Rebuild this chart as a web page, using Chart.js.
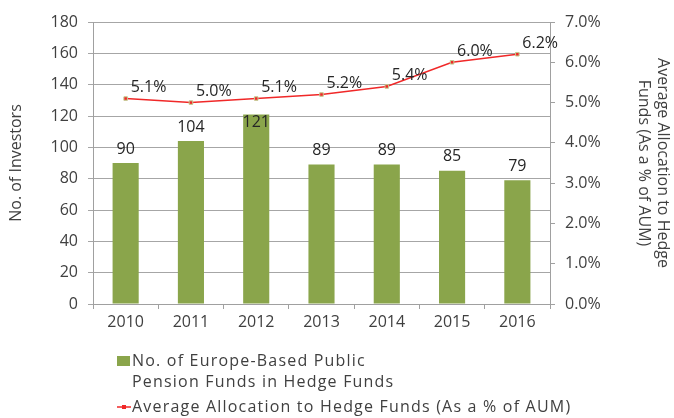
<!DOCTYPE html>
<html>
<head>
<meta charset="utf-8">
<script src="https://cdn.jsdelivr.net/npm/chart.js@4.4.1/dist/chart.umd.min.js"></script>
<style>
  html, body { margin: 0; padding: 0; background: #ffffff; }
  #wrap { width: 674px; height: 418px; position: relative; }
</style>
</head>
<body>
<div id="wrap"><canvas id="chart" width="674" height="418"></canvas></div>
<script>
// data
const years = ["2010", "2011", "2012", "2013", "2014", "2015", "2016"];
const fundCounts = [90, 104, 121, 89, 89, 85, 79];
const avgAllocation = [5.1, 5.0, 5.1, 5.2, 5.4, 6.0, 6.2];
const barLegend = ["No. of Europe-Based Public", "Pension Funds in Hedge Funds"];
const lineLegend = "Average Allocation to Hedge Funds (As a % of AUM)";

const FONT = "'Open Sans', sans-serif";
const GREEN = "#8aa54b";
const RED = "#f02828";
const TEXT = "#404040";

// value labels for bars (centered above) and line points (up-right)
const labelPlugin = {
    id: "labelPlugin",
    afterDatasetsDraw(chart) {
        const { ctx } = chart;
        const barMeta = chart.getDatasetMeta(0);
        const lineMeta = chart.getDatasetMeta(1);
        ctx.save();
        ctx.font = "16px " + FONT;
        ctx.fillStyle = "#262626";
        ctx.textBaseline = "middle";
        barMeta.data.forEach((bar, i) => {
            const pt = lineMeta.data[i];
            // keep clear of the line label when bars get tall
            const y = Math.max(bar.y - 14, pt.y + 24);
            ctx.textAlign = "center";
            ctx.fillText(String(fundCounts[i]), bar.x, y);
        });
        lineMeta.data.forEach((pt, i) => {
            ctx.textAlign = "left";
            ctx.fillText(avgAllocation[i].toFixed(1) + "%", pt.x + 5, pt.y - 11);
        });
        ctx.restore();
    }
};

// legend below the axis, stacked like the original
const legendPlugin = {
    id: "legendPlugin",
    afterDraw(chart) {
        const { ctx } = chart;
        ctx.save();
        ctx.font = "16px " + FONT;
        ctx.letterSpacing = "1.2px";
        ctx.textBaseline = "middle";
        ctx.textAlign = "left";
        const x0 = 117;
        // bar item
        ctx.fillStyle = GREEN;
        ctx.fillRect(x0, 356, 13, 10);
        ctx.fillStyle = TEXT;
        ctx.fillText(barLegend[0], x0 + 15, 361);
        ctx.fillText(barLegend[1], x0 + 15, 382);
        // line item
        ctx.strokeStyle = RED;
        ctx.lineWidth = 1.5;
        ctx.beginPath();
        ctx.moveTo(x0, 407);
        ctx.lineTo(x0 + 14, 407);
        ctx.stroke();
        ctx.fillStyle = RED;
        ctx.fillRect(x0 + 5, 405, 4, 4);
        ctx.fillStyle = TEXT;
        ctx.fillText(lineLegend, x0 + 15, 407);
        ctx.restore();
    }
};

const canvas = document.getElementById("chart");
new Chart(canvas, {
    type: "bar",
    data: {
        labels: years,
        datasets: [
            {
                type: "bar",
                label: barLegend.join(" "),
                data: fundCounts,
                backgroundColor: GREEN,
                barPercentage: 0.4,
                categoryPercentage: 1,
                yAxisID: "y",
                order: 2
            },
            {
                type: "line",
                label: lineLegend,
                data: avgAllocation,
                borderColor: RED,
                borderWidth: 1.5,
                pointStyle: "rect",
                pointRadius: 2.5,
                pointBackgroundColor: RED,
                pointBorderColor: "#c0cc90",
                pointBorderWidth: 1,
                tension: 0,
                yAxisID: "y1",
                order: 1
            }
        ]
    },
    options: {
        responsive: false,
        animation: false,
        layout: { padding: { top: 22, left: 0, right: 0, bottom: 0 } },
        plugins: {
            legend: { display: false },
            tooltip: { enabled: false }
        },
        scales: {
            x: {
                grid: { display: true, drawOnChartArea: false, tickLength: 5, color: "#a0a0a0" },
                border: { color: "#a0a0a0" },
                ticks: { color: TEXT, font: { family: FONT, size: 16 }, padding: 4 },
                afterFit(scale) { scale.height = 114; }
            },
            y: {
                position: "left",
                min: 0,
                max: 180,
                ticks: { stepSize: 20, color: TEXT, font: { family: FONT, size: 16 }, padding: 10 },
                grid: { color: "#a6a6a6", tickLength: 5 },
                border: { color: "#a0a0a0" },
                title: {
                    display: true,
                    text: "No. of Investors",
                    color: TEXT,
                    font: { family: FONT, size: 16 },
                    padding: { top: 7, bottom: 0 }
                },
                afterFit(scale) { scale.width = 93; }
            },
            y1: {
                position: "right",
                min: 0,
                max: 7,
                ticks: {
                    stepSize: 1,
                    color: TEXT,
                    font: { family: FONT, size: 16 },
                    padding: 10,
                    callback: v => v.toFixed(1) + "%"
                },
                grid: { drawOnChartArea: false, tickLength: 5, color: "#a0a0a0" },
                border: { color: "#a0a0a0" },
                title: {
                    display: true,
                    text: ["Average Allocation to Hedge", "Funds (As a % of AUM)"],
                    color: TEXT,
                    font: { family: FONT, size: 16 },
                    padding: { top: 2, bottom: 0 }
                },
                afterFit(scale) { scale.width = 124; }
            }
        }
    },
    plugins: [labelPlugin, legendPlugin]
});
</script>
</body>
</html>
